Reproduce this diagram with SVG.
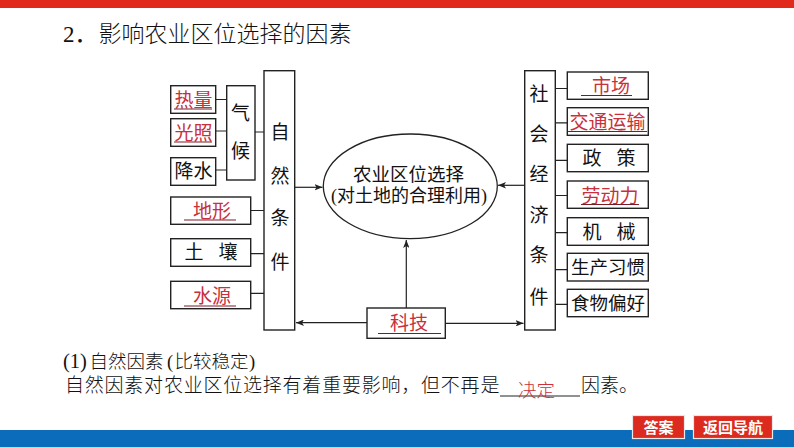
<svg xmlns="http://www.w3.org/2000/svg" width="794" height="447" viewBox="0 0 794 447">
<style>
text{font-family:"Liberation Serif","Noto Sans CJK SC",serif;fill:#111}
.b{fill:#fff;stroke:#222;stroke-width:1.4}
.l{fill:none;stroke:#222;stroke-width:1.2}
.t{font-size:19px;text-anchor:middle;font-weight:400}
.r{fill:#c8303c;font-weight:400}
.u{stroke:#7a1c28;stroke-width:1.2}
.p{font-size:19px;font-weight:300}
.w{fill:#fff;font-size:15px;font-weight:700;text-anchor:middle}
.g{letter-spacing:-2px}
</style>
<defs>
<marker id="a" viewBox="0 0 10 8" refX="10" refY="4" markerWidth="8" markerHeight="6.4" orient="auto" markerUnits="userSpaceOnUse"><path d="M0 0L10 4L0 8L2.500 4Z" fill="#222"/></marker>
</defs>
<rect x="0" y="0" width="794" height="8" fill="#e12a1c"/>
<rect x="0" y="430" width="794" height="17" fill="#0a6cba"/>
<text x="63" y="42" font-size="23">2．</text>
<text x="98.500" y="42" font-size="23" font-weight="300">影响农业区位选择的因素</text>

<g id="connectors">
<path class="l" d="M215.700 99.500H226.700M215.700 131H226.700M215.700 170H226.700M255 132H264M250.700 210.500H264M250.700 253.700H264M250.700 293.300H264"/>
<path class="l" d="M555.300 88.500H567.300M555.300 122.800H567.300M555.300 160.300H567.300M555.300 195.500H567.300M555.300 232.700H567.300M555.300 269.700H567.300M555.300 304.300H567.300"/>
<path class="l" marker-end="url(#a)" d="M294.700 187.300H322.500"/>
<path class="l" marker-end="url(#a)" d="M524.700 185.300H498"/>
<path class="l" marker-end="url(#a)" d="M406.300 308V240"/>
<path class="l" marker-end="url(#a)" d="M367 322.700H296"/>
<path class="l" marker-end="url(#a)" d="M445.300 323.300H523.500"/>
</g>

<g id="n-reliang"><rect class="b" x="170.700" y="85.700" width="45" height="27.600"/><text class="t r" x="193.500" y="107">热量</text><line class="u" x1="174" y1="109" x2="212" y2="109"/></g>
<g id="n-guangzhao"><rect class="b" x="170.700" y="118.700" width="45" height="27.600"/><text class="t r" x="193.500" y="140">光照</text><line class="u" x1="174" y1="142" x2="212" y2="142"/></g>
<g id="n-jiangshui"><rect class="b" x="170.700" y="157.700" width="45" height="27.600"/><text class="t" x="193.500" y="178">降水</text></g>
<g id="n-qihou"><rect class="b" x="226.700" y="85.700" width="28.300" height="94.300"/><text class="t" x="240.500" y="119.500">气</text><text class="t" x="240.500" y="158">候</text></g>
<g id="n-ziran"><rect class="b" x="264" y="70.700" width="30.700" height="259.300"/><text class="t" x="280" y="138.500">自</text><text class="t" x="280" y="182.500">然</text><text class="t" x="280" y="225">条</text><text class="t" x="280" y="269">件</text></g>
<g id="n-dixing"><rect class="b" x="170.700" y="197" width="80" height="27.300"/><text class="t r" x="212" y="218">地形</text><line class="u" x1="184" y1="220" x2="236" y2="220"/></g>
<g id="n-turang"><rect class="b" x="170.700" y="238.700" width="80" height="27.600"/><text class="t g" x="210" y="259">土　壤</text></g>
<g id="n-shuiyuan"><rect class="b" x="170.700" y="281.300" width="80" height="27.400"/><text class="t r" x="212" y="303">水源</text><line class="u" x1="184" y1="306" x2="236" y2="306"/></g>

<g id="n-center"><ellipse cx="410.300" cy="186.300" rx="87" ry="52.300" fill="#fff" stroke="#222" stroke-width="1.300"/><text x="408.500" y="181" font-size="18.500" text-anchor="middle">农业区位选择</text><text x="409" y="202" font-size="18" text-anchor="middle">(对土地的合理利用)</text></g>
<g id="n-keji"><rect class="b" x="367" y="308" width="78.300" height="30.300"/><text class="t r" x="409" y="330">科技</text><line class="u" x1="378" y1="333.500" x2="441" y2="333.500"/></g>

<g id="n-shehui"><rect class="b" x="524.700" y="70.700" width="30.600" height="259.300"/><text class="t" x="539" y="100.500">社</text><text class="t" x="539" y="140.500">会</text><text class="t" x="539" y="180.500">经</text><text class="t" x="539" y="221.500">济</text><text class="t" x="539" y="261.500">条</text><text class="t" x="539" y="303.500">件</text></g>
<g id="n-shichang"><rect class="b" x="567.300" y="72" width="81" height="27.300"/><text class="t r" x="611" y="93">市场</text><line class="u" x1="581" y1="95.500" x2="632" y2="95.500"/></g>
<g id="n-jiaotong"><rect class="b" x="567.300" y="107.700" width="81" height="27.600"/><text class="t r" x="607.500" y="129" font-size="19.500">交通运输</text><line class="u" x1="568" y1="131.500" x2="647" y2="131.500"/></g>
<g id="n-zhengce"><rect class="b" x="567.300" y="144.300" width="81" height="27.400"/><text class="t g" x="608" y="165">政　策</text></g>
<g id="n-laodong"><rect class="b" x="567.300" y="181" width="81" height="27.300"/><text class="t r" x="610" y="203">劳动力</text><line class="u" x1="581" y1="204.500" x2="639" y2="204.500"/></g>
<g id="n-jixie"><rect class="b" x="567.300" y="217.700" width="81" height="27.600"/><text class="t g" x="608" y="238.500">机　械</text></g>
<g id="n-xiguan"><rect class="b" x="567.300" y="253.300" width="81" height="27.700"/><text class="t" x="608" y="274" style="font-size:18.500px">生产习惯</text></g>
<g id="n-shiwu"><rect class="b" x="567.300" y="289.300" width="81" height="27.400"/><text class="t" x="608" y="310" style="font-size:18.500px">食物偏好</text></g>

<text y="368" class="p" style="font-size:18.500px"><tspan x="63" style="font-size:20.500px">(1)</tspan><tspan x="89.500">自然因素</tspan><tspan x="167">(</tspan><tspan x="174.500">比较稳定</tspan><tspan x="249">)</tspan></text>
<text x="65" y="392" class="p" letter-spacing=".78">自然因素对农业区位选择有着重要影响，但不再是</text>
<line x1="500" y1="396" x2="580" y2="396" stroke="#222" stroke-width="1"/>
<text x="518" y="397" class="p r" style="font-size:18.500px">决定</text>
<text x="581" y="392" class="p">因素。</text>

<g id="btn-answer"><rect x="632.500" y="415.500" width="52" height="23" fill="#dd2a1e" stroke="#e8e8e8" stroke-width="1.200"/><text class="w" x="658.500" y="433">答案</text></g>
<g id="btn-nav"><rect x="693.500" y="415.500" width="79" height="23" fill="#dd2a1e" stroke="#e8e8e8" stroke-width="1.200"/><text class="w" x="733" y="433">返回导航</text></g>
</svg>
